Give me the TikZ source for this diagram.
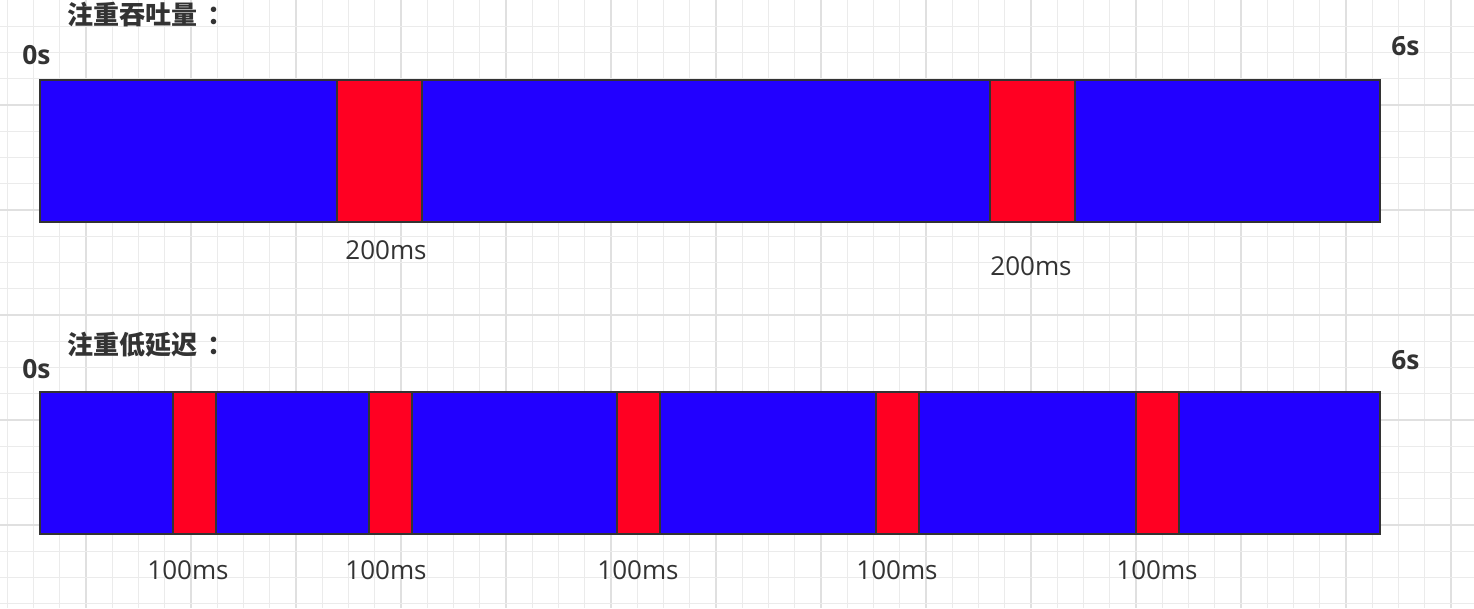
\documentclass[tikz,border=0pt]{standalone}
\usepackage{fontspec}
\setmainfont{Open Sans}
\newfontfamily\cjkfont{Noto Sans CJK SC}
\usetikzlibrary{positioning}

\definecolor{busy}{HTML}{2200FF}
\definecolor{pause}{HTML}{FF0022}
\definecolor{ink}{HTML}{333333}
\definecolor{gridminor}{HTML}{EBEBEB}
\definecolor{gridmajor}{HTML}{E0E0E0}

\begin{document}
\begin{tikzpicture}[
  x=0.2mm, y=-0.2mm,
  title/.style={anchor=west, inner sep=0pt, text=ink, font=\cjkfont\bfseries\fontsize{14.8}{17}\selectfont},
  tick/.style={anchor=west, inner sep=0pt, text=ink, font=\bfseries\fontsize{15}{17}\selectfont},
  dur/.style={inner sep=0pt, text=ink, font=\fontsize{14.8}{17}\selectfont},
  run/.style={draw=ink, line width=1.5pt, fill=busy},
  gc/.style={draw=ink, line width=1.5pt, fill=pause}
]
\useasboundingbox (0,0) rectangle (1474,608);

% background grid
\foreach \i in {0,...,55}{
  \pgfmathtruncatemacro\m{mod(\i,4)}
  \ifnum\m=3
    \draw[gridmajor, line width=0.6pt] ({7.25+26.25*\i},0) -- ++(0,608);
  \else
    \draw[gridminor, line width=0.6pt] ({7.25+26.25*\i},0) -- ++(0,608);
  \fi
}
\foreach \j in {1,...,23}{
  \pgfmathtruncatemacro\m{mod(\j,4)}
  \ifnum\m=0
    \draw[gridmajor, line width=0.6pt] (0,{26.25*\j}) -- ++(1474,0);
  \else
    \draw[gridminor, line width=0.6pt] (0,{26.25*\j}) -- ++(1474,0);
  \fi
}

% throughput
\node[title] (tputhead) at (67,15) {注重吞吐量\kern0.4em：};
\node[tick] (tputstart) at (22,55) {0s};
\node[tick] (tputend) at (1391,46) {6s};
\draw[run] (40,80) rectangle (1380,222);
\foreach \a/\b in {337/422, 990/1075}
  \draw[gc] (\a,80) rectangle (\b,222);
\node[dur] (tputgc1) at (386,250) {200ms};
\node[dur] (tputgc2) at (1031,266) {200ms};

% low latency
\node[title] (lathead) at (67,345) {注重低延迟\kern0.4em：};
\node[tick] (latstart) at (22,369) {0s};
\node[tick] (latend) at (1391,360) {6s};
\draw[run] (40,392) rectangle (1380,534);
\foreach \a/\b in {173/216, 369/412, 617/660, 876/919, 1136/1179}
  \draw[gc] (\a,392) rectangle (\b,534);
\foreach \c [count=\i] in {188,386,638,897,1157}
  \node[dur] (latgc\i) at (\c,570) {100ms};
\end{tikzpicture}
\end{document}
